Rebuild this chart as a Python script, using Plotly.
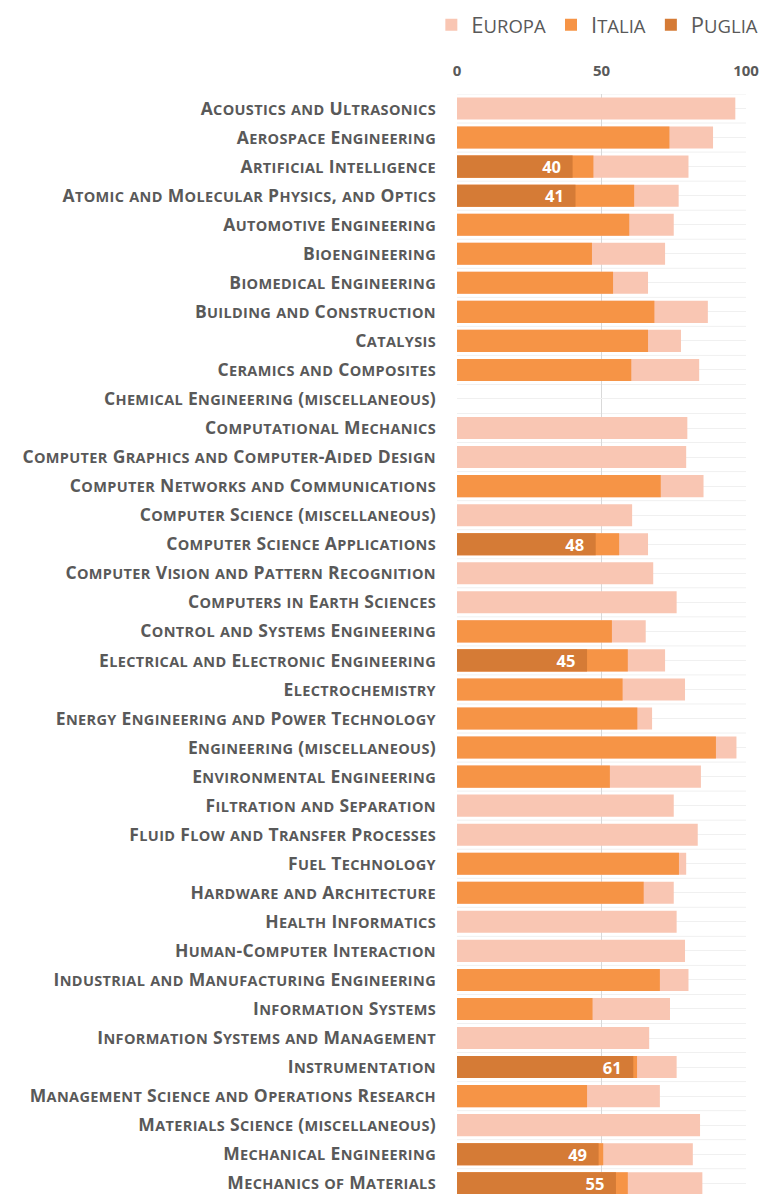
import plotly.graph_objects as go

categories = [
    "Acoustics and Ultrasonics",
    "Aerospace Engineering",
    "Artificial Intelligence",
    "Atomic and Molecular Physics, and Optics",
    "Automotive Engineering",
    "Bioengineering",
    "Biomedical Engineering",
    "Building and Construction",
    "Catalysis",
    "Ceramics and Composites",
    "Chemical Engineering (miscellaneous)",
    "Computational Mechanics",
    "Computer Graphics and Computer-Aided Design",
    "Computer Networks and Communications",
    "Computer Science (miscellaneous)",
    "Computer Science Applications",
    "Computer Vision and Pattern Recognition",
    "Computers in Earth Sciences",
    "Control and Systems Engineering",
    "Electrical and Electronic Engineering",
    "Electrochemistry",
    "Energy Engineering and Power Technology",
    "Engineering (miscellaneous)",
    "Environmental Engineering",
    "Filtration and Separation",
    "Fluid Flow and Transfer Processes",
    "Fuel Technology",
    "Hardware and Architecture",
    "Health Informatics",
    "Human-Computer Interaction",
    "Industrial and Manufacturing Engineering",
    "Information Systems",
    "Information Systems and Management",
    "Instrumentation",
    "Management Science and Operations Research",
    "Materials Science (miscellaneous)",
    "Mechanical Engineering",
    "Mechanics of Materials",
]

europa = [96.3, 88.6, 80.1, 76.7, 75.0, 72.0, 66.1, 86.8, 77.5, 83.8,
          None, 79.7, 79.3, 85.3, 60.6, 66.1, 67.9, 76.0, 65.3, 72.0,
          78.9, 67.5, 96.7, 84.4, 75.0, 83.3, 79.3, 75.0, 76.0, 78.9,
          80.1, 73.7, 66.5, 76.0, 70.2, 84.1, 81.6, 84.9]

italia = [None, 73.5, 47.2, 61.3, 59.6, 46.7, 54.0, 68.3, 66.1, 60.3,
          None, None, None, 70.5, None, 56.1, None, None, 53.6, 59.1,
          57.3, 62.4, 89.6, 52.9, None, None, 76.8, 64.6, None, None,
          70.2, 46.9, None, 62.3, 45.0, None, 50.6, 59.1]

puglia = [None, None, 40, 41, None, None, None, None, None, None,
          None, None, None, None, None, 48, None, None, None, 45,
          None, None, None, None, None, None, None, None, None, None,
          None, None, None, 61, None, None, 49, 55]

series_names = ["Europa", "Italia", "Puglia"]
x_ticks = [0, 50, 100]

C_EUR = "#F9C6B3"
C_ITA = "#F69446"
C_PUG = "#D57B36"
TXT = "#595959"
FONT = "Open Sans"


def small_caps(s, small_px, spacing=None):
    """Emulate small caps: lowercase letters become capitals at a smaller size."""
    runs = []
    run = ""
    run_small = None
    for ch in s:
        is_small = ch.islower()
        if run_small is None or is_small == run_small:
            run += ch
        else:
            runs.append((run, run_small))
            run = ch
        run_small = is_small
    if run:
        runs.append((run, run_small))
    ls = f"letter-spacing:{spacing}px;" if spacing else ""
    html = ""
    for txt, sm in runs:
        if sm:
            html += f'<span style="{ls}font-size:{small_px}px">{txt.upper()}</span>'
        elif ls:
            html += f'<span style="{ls}">{txt}</span>'
        else:
            html += txt
    return html


tick_labels = [small_caps(c, 14.5, 0.35) for c in categories]

fig = go.Figure()
values = [europa, italia, puglia]
colors = [C_EUR, C_ITA, C_PUG]
for name, vals, col in zip(series_names, values, colors):
    kw = {}
    if name == "Puglia":
        kw = dict(text=[(f"{v:.0f}\u00a0\u00a0" if v is not None else "") for v in vals],
                  textposition="inside", insidetextanchor="end",
                  textfont=dict(color="white", size=16.5, family=FONT, weight="bold"),
                  textangle=0, constraintext="none")
    fig.add_trace(go.Bar(y=categories, x=vals, orientation="h",
                         name=small_caps(name, 18.5),
                         marker=dict(color=col, line=dict(width=0)), width=0.76,
                         hoverinfo="x", **kw))

n = len(categories)
for i in range(n + 1):
    fig.add_shape(type="line", xref="x", yref="y", x0=0, x1=100,
                  y0=i - 0.5, y1=i - 0.5, layer="below",
                  line=dict(color="#F0F0F0", width=1))

fig.update_layout(
    width=764, height=1194,
    barmode="overlay",
    paper_bgcolor="white", plot_bgcolor="white",
    margin=dict(l=457, r=18, t=94, b=0, pad=0),
    font=dict(family=FONT, color=TXT),
    showlegend=True,
    legend=dict(orientation="h", x=1.06, xanchor="right", y=1 - 25 / 1194, yref="container",
                yanchor="middle", traceorder="normal",
                font=dict(size=22, family=FONT, color=TXT),
                bgcolor="rgba(0,0,0,0)"),
    xaxis=dict(side="top", range=[0, 100], tickvals=x_ticks, ticktext=[str(v) for v in x_ticks],
               showgrid=True, gridcolor="#D9D9D9", gridwidth=1, zeroline=False,
               showline=False, ticks="", tickfont=dict(size=15, color=TXT, family=FONT, weight="bold"),
               ticklabelstandoff=14, fixedrange=True),
    yaxis=dict(categoryorder="array", categoryarray=categories,
               tickvals=categories, ticktext=tick_labels,
               range=[n - 1 + 0.37, -0.5], showgrid=True, gridcolor="#F0F0F0",
               showline=False, ticks="", zeroline=False,
               tickfont=dict(size=17.5, color=TXT, family=FONT, weight="bold"),
               ticklabelstandoff=20, fixedrange=True),
)

fig.write_html("out.html", config={"displayModeBar": False},
               post_script="document.body.style.margin='0';document.body.style.overflow='hidden';")
